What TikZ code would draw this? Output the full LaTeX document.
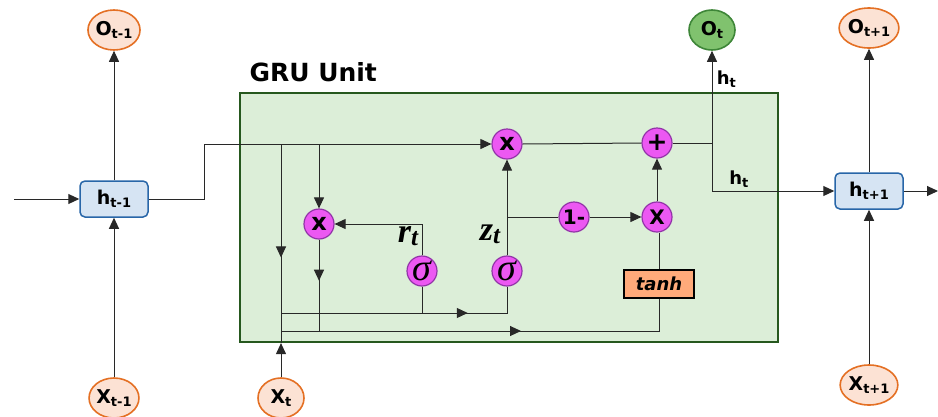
\documentclass[tikz,border=0pt]{standalone}
\usepackage{fontspec}
\setmainfont{DejaVu Sans}
\newfontfamily\serifit{Liberation Serif}
\usepackage{tikz}
\usetikzlibrary{
  arrows.meta,
  positioning,
  shapes.geometric,
  decorations.markings
}
\definecolor{peachfill}{RGB}{252,226,212}
\definecolor{peachline}{RGB}{228,112,36}
\definecolor{outfill}{RGB}{128,194,110}
\definecolor{outline}{RGB}{62,134,56}
\definecolor{hfill}{RGB}{214,228,243}
\definecolor{hline}{RGB}{40,102,168}
\definecolor{grufill}{RGB}{220,238,216}
\definecolor{gruline}{RGB}{38,88,30}
\definecolor{gatefill}{RGB}{236,88,242}
\definecolor{gateline}{RGB}{146,52,168}
\definecolor{tanhfill}{RGB}{255,170,122}
\definecolor{wire}{RGB}{40,40,40}
\tikzset{
  iobox/.style={ellipse, draw=peachline, fill=peachfill, line width=1.6pt,
    minimum width=46pt, minimum height=40pt, inner sep=0pt,
    font=\fontsize{19}{19}\selectfont\bfseries},
  statebox/.style={draw=hline, fill=hfill, rounded corners=5pt, line width=1.5pt,
    minimum width=68pt, minimum height=36pt, inner sep=0pt,
    font=\fontsize{19}{19}\selectfont\bfseries},
  gate/.style={circle, draw=gateline, fill=gatefill, line width=1.2pt,
    minimum size=30pt, inner sep=0pt,
    font=\fontsize{20}{20}\selectfont\bfseries},
  siggate/.style={gate, font=\fontsize{38}{38}\selectfont\serifit\itshape},
  gatelabel/.style={anchor=base, inner sep=0pt,
    font=\fontsize{34}{34}\selectfont\serifit\bfseries\itshape},
  arr/.style={-{Triangle[length=11pt,width=10pt]}, line width=1pt, draw=wire},
  wireline/.style={line width=1pt, draw=wire},
  midarr/.style={wireline, postaction={decorate}, decoration={markings,
    mark=at position #1 with {\arrow{Triangle[length=11pt,width=10pt]}}}},
}
\newcommand{\lab}[2]{#1\raisebox{-0.3ex}{\fontsize{13}{13}\selectfont #2}}
\newcommand{\glab}[2]{#1\raisebox{-0.2ex}{\fontsize{25}{25}\selectfont #2}}

\begin{document}
\begin{tikzpicture}[x=1pt, y=-1pt]
  \useasboundingbox (0,0) rectangle (938,416);

  \node[draw=gruline, fill=grufill, line width=2.2pt,
        minimum width=538pt, minimum height=249pt] (gru) at (509,217.5) {};
  \node[anchor=base west, font=\fontsize{25}{25}\selectfont\bfseries] (title) at (246,81) {GRU Unit};

  % time steps
  \node[statebox] (hprev) at (114,199) {\lab{h}{t-1}};
  \node[iobox] (oprev) at (114,30) {\lab{O}{t-1}};
  \node[iobox] (xprev) at (114,398) {\lab{X}{t-1}};
  \node[statebox] (hnext) at (869,191) {\lab{h}{t+1}};
  \node[iobox] (onext) at (869,28) {\lab{O}{t+1}};
  \node[iobox] (xnext) at (869,385) {\lab{X}{t+1}};
  \node[iobox] (xt) at (281,398) {\lab{X}{t}};
  \node[iobox, draw=outline, fill=outfill] (ot) at (712,30) {\lab{O}{t}};

  % gates
  \node[gate, font=\fontsize{24}{24}\selectfont\bfseries] (rx) at (319,224) {x};
  \node[gate, font=\fontsize{24}{24}\selectfont\bfseries] (mtop) at (507,144) {x};
  \node[siggate] (sigr) at (422,271) {σ};
  \node[siggate] (sigz) at (507,271) {σ};
  \node[gate] (onem) at (574,217) {1-};
  \node[gate] (mlow) at (657,217) {X};
  \node[gate, font=\fontsize{25}{25}\selectfont\bfseries] (plus) at (657,143) {+};
  \node[draw=black, fill=tanhfill, line width=1.5pt, minimum width=70pt, minimum height=28pt,
        inner sep=0pt, font=\fontsize{18}{18}\selectfont\bfseries\itshape] (tanh) at (659,284) {tanh};
  \node[gatelabel] (rlab) at (408,242) {\glab{r}{t}};
  \node[gatelabel] (zlab) at (490,240) {\glab{z}{t}};

  \coordinate (hin) at (14,199);
  \coordinate (hout) at (938,191);
  \coordinate (bend) at (204,199);
  \coordinate (jh) at (281,144);
  \coordinate (jr) at (319,144);
  \coordinate (jl) at (281,313);
  \coordinate (jb) at (281,331);
  \coordinate (jz) at (507,217);
  \coordinate (jo) at (712,143);

  \foreach \a/\b in {xprev/hprev, hprev/oprev, xnext/hnext, hnext/onext} {
    \draw[arr] (\a) -- (\b);
  }
  \draw[arr] (hin) -- (hprev.west);
  \draw[arr] (hnext.east) -- (hout);
  \draw[arr] (hprev.east) -- (bend) |- (mtop.west);
  \draw[arr] (xt.north) -- (xt.north |- gru.south);
  \draw[midarr=0.57] (jh) -- (jh |- gru.south);
  \draw[arr] (jr) -- (rx.north);
  \draw[midarr=0.45] (rx.south) -- (rx.south |- jb);
  \draw[arr] (sigr.north) |- (rx.east);
  \draw[wireline] (sigr.south) -- (sigr.south |- jl);
  \draw[midarr=0.74] (jl) -| (sigz.south);
  \draw[arr] (sigz.north) -- (mtop.south);
  \draw[wireline] (jz) -- (onem.west);
  \draw[arr] (onem.east) -- (mlow.west);
  \draw[arr] (mlow.north) -- (plus.south);
  \draw[wireline] (mtop.east) -- (plus.west);
  \draw[wireline] (tanh.north) -- (tanh.north |- mlow.south);
  \draw[midarr=0.585] (jb) -| (tanh.south);
  \draw[wireline] (plus.east) -- (jo);
  \draw[arr] (jo) -- node[pos=0.69, right=1pt, font=\fontsize{18}{18}\selectfont\bfseries] (htup) {\lab{h}{t}} (ot.south);
  \draw[arr] (jo) |- node[pos=0.61, above=0pt, font=\fontsize{18}{18}\selectfont\bfseries] (htright) {\lab{h}{t}} (hnext.west);
\end{tikzpicture}
\end{document}
